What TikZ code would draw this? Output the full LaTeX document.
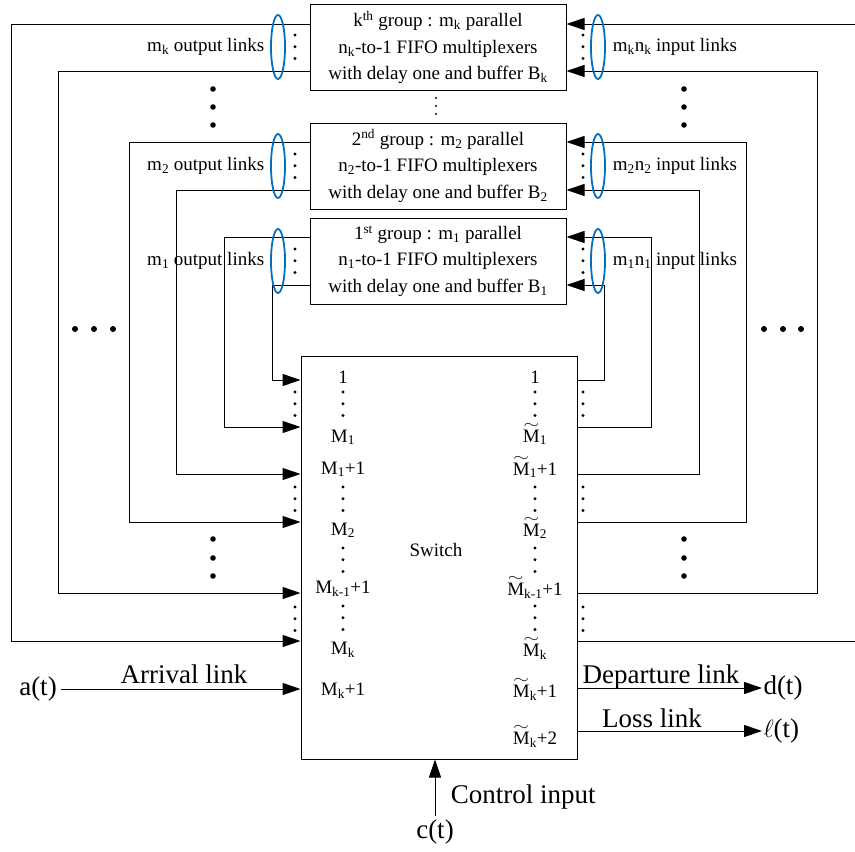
\documentclass[tikz,border=0pt]{standalone}
\usepackage{fontspec}
\setmainfont{Liberation Serif}
\usetikzlibrary{arrows.meta}
\definecolor{linkblue}{RGB}{0,112,192}
\newcommand{\tM}{\leavevmode\rlap{\kern0.03em\raisebox{0.72em}{\resizebox{0.82em}{0.27em}{$\sim$}}}M}

\begin{document}
\begin{tikzpicture}[x=1pt, y=-1pt, line width=1pt, >={Triangle[length=18pt,width=12pt]},
    grpbox/.style={draw, minimum width=256pt, minimum height=86pt, inner sep=0pt, align=center, font=\fontsize{19}{26.5}\selectfont},
    lbl/.style={font=\fontsize{19}{23}\selectfont},
    iolbl/.style={font=\fontsize{27}{32}\selectfont},
    bundle/.style={draw=linkblue, line width=1.8pt}]
    \useasboundingbox (0,0) rectangle (855,852);

    % Groups of multiplexers
    \node[grpbox] (grpk) at (438,47.5) {k\textsuperscript{th} group : m\textsubscript{k} parallel\\
        n\textsubscript{k}-to-1 FIFO multiplexers\\ with delay one and buffer B\textsubscript{k}};
    \node[grpbox] (grp2) at (438,166) {2\textsuperscript{nd} group : m\textsubscript{2} parallel\\
        n\textsubscript{2}-to-1 FIFO multiplexers\\ with delay one and buffer B\textsubscript{2}};
    \node[grpbox] (grp1) at (438,261) {1\textsuperscript{st} group : m\textsubscript{1} parallel\\
        n\textsubscript{1}-to-1 FIFO multiplexers\\ with delay one and buffer B\textsubscript{1}};

    % Switch
    \node[draw, minimum width=276pt, minimum height=403pt, inner sep=0pt] (sw) at (439,557.5) {};
    \node[lbl, anchor=base] (swl) at (436,556) {Switch};

    % Port numbers
    \foreach \t/\y [count=\i] in {1/383, {M\textsubscript{1}}/442, {M\textsubscript{1}+1}/474,
        {M\textsubscript{2}}/535, {M\textsubscript{k-1}+1}/593, {M\textsubscript{k}}/654, {M\textsubscript{k}+1}/695}
        \node[lbl, anchor=base] (lp\i) at (343,\y) {\t};
    \foreach \t/\y [count=\i] in {1/383, {\tM\textsubscript{1}}/442, {\tM\textsubscript{1}+1}/475,
        {\tM\textsubscript{2}}/536, {\tM\textsubscript{k-1}+1}/595, {\tM\textsubscript{k}}/656,
        {\tM\textsubscript{k}+1}/697, {\tM\textsubscript{k}+2}/744}
        \node[lbl, anchor=base] (rp\i) at (535,\y) {\t};

    % Feedback links
    \foreach \g/\a/\b/\c in {grpk/24/11/641, grpk/71/58/593, grp2/142/129/522,
        grp2/190/176/474, grp1/237/224/427, grp1/285/272/380}
        \draw[->] (\g.west |- 0,\a) -| (\b,\c) -- (sw.west |- 0,\c);
    \foreach \g/\a/\b/\c in {grp1/285/604/380, grp1/237/651/427, grp2/190/699/474,
        grp2/142/746/522, grpk/71/817/593}
        \draw[->] (sw.east |- 0,\c) -| (\b,\a) -- (\g.east |- 0,\a);
    \coordinate (redgeb) at (855,641);
    \coordinate (redget) at (855,24);
    \draw (sw.east |- redgeb) -- (redgeb);
    \draw[->] (redget) -- (grpk.east |- redget);

    % Link bundles
    \foreach \x in {278,598}
        \foreach \y in {47,166,261}
            \draw[bundle] (\x,\y) ellipse [x radius=7, y radius=32];
    \node[lbl, anchor=east] (outk) at (268,47) {m\textsubscript{k} output links};
    \node[lbl, anchor=east] (out2) at (268,166) {m\textsubscript{2} output links};
    \node[lbl, anchor=east] (out1) at (268,261) {m\textsubscript{1} output links};
    \node[lbl, anchor=west] (ink) at (609,47) {m\textsubscript{k}n\textsubscript{k} input links};
    \node[lbl, anchor=west] (in2) at (609,166) {m\textsubscript{2}n\textsubscript{2} input links};
    \node[lbl, anchor=west] (in1) at (609,261) {m\textsubscript{1}n\textsubscript{1} input links};

    % Dots
    \foreach \x/\y in {295/35, 295/154, 295/249, 583/35, 583/154, 583/249,
        295/392, 295/487, 295/607, 583/392, 583/487, 583/607,
        343/392, 343/487, 343/548, 343/606, 535/392, 535/487, 535/548, 535/606}
        \foreach \d in {0,1,2}
            \fill (\x,\y+11.7*\d) circle (1.6);
    \foreach \d in {0,1,2}
        \fill (436,98+8*\d) circle (1.2);
    \foreach \x in {213,684}
        \foreach \y in {89,107,125,539,558,576}
            \fill (\x,\y) circle (2.8);
    \foreach \x in {75,94,113,764,783,801}
        \fill (\x,329) circle (3);

    % Arrival, departure, loss and control
    \node[iolbl] (at) at (38,689) {a(t)};
    \draw[->] (at) -- (sw.west |- at);
    \node[iolbl, anchor=base] (arr) at (184,683) {Arrival link};
    \node[iolbl, anchor=west, inner sep=1pt] (dt) at (762,688) {d(t)};
    \draw[->] (sw.east |- dt) -- (dt);
    \node[iolbl, anchor=base] (dep) at (661,683) {Departure link};
    \node[iolbl, anchor=west, inner sep=1pt] (lt) at (762,731) {$\ell$(t)};
    \draw[->] (sw.east |- lt) -- (lt);
    \node[iolbl, anchor=base] (loss) at (652,727) {Loss link};
    \node[iolbl] (ct) at (435,832) {c(t)};
    \draw[->] (ct) -- (sw.south -| ct);
    \node[iolbl, anchor=base west] (ctl) at (447,803) {Control input};
\end{tikzpicture}
\end{document}
